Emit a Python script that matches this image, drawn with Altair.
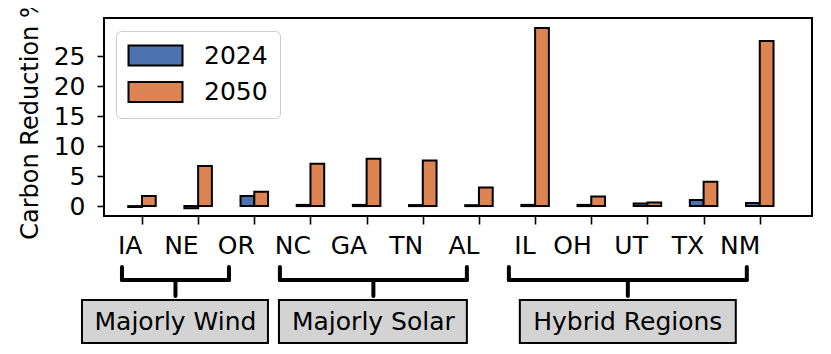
import altair as alt
import pandas as pd

# ---- data ----
regions = ["IA", "NE", "OR", "NC", "GA", "TN", "AL", "IL", "OH", "UT", "TX", "NM"]
reduction_2024 = [-0.15, -0.35, 1.7, 0.2, 0.2, 0.17, 0.15, 0.2, 0.2, 0.45, 1.0, 0.5]
reduction_2050 = [1.7, 6.7, 2.4, 7.05, 7.9, 7.6, 3.1, 29.7, 1.6, 0.6, 4.05, 27.5]
years = ["2024", "2050"]
colors = ["#4C72B0", "#DD8452"]
y_ticks = [0, 5, 10, 15, 20, 25]

# group annotations (positions in x-index units)
group_names = ["Majorly Wind", "Majorly Solar", "Hybrid Regions"]
group_bracket_start = [-0.356, 2.456, 6.533]
group_bracket_end = [1.549, 5.785, 10.769]
group_box_start = [-1.068, 2.439, 6.728]
group_box_end = [2.243, 5.785, 10.573]

FONT = "DejaVu Sans"
BAR_W = 0.245

rows = []
for i, r in enumerate(regions):
    rows.append({"idx": i, "region": r, "year": years[0], "value": reduction_2024[i]})
    rows.append({"idx": i, "region": r, "year": years[1], "value": reduction_2050[i]})
bars_df = pd.DataFrame(rows)

groups_df = pd.DataFrame({
    "name": group_names,
    "b0": group_bracket_start,
    "b1": group_bracket_end,
    "r0": group_box_start,
    "r1": group_box_end,
})

xscale = alt.Scale(domain=[-0.676, 11.93], nice=False, zero=False)
yscale = alt.Scale(domain=[-1.65, 31.35], nice=False, zero=False)

label_expr = "[" + ",".join("'" + r + "'" for r in regions) + "][datum.value]"

bars = alt.Chart(bars_df).transform_calculate(
    x0=f"datum.idx + (datum.year == '2024' ? {-BAR_W} : 0)",
    x1=f"datum.idx + (datum.year == '2024' ? 0 : {BAR_W})",
).mark_rect(stroke="black", strokeWidth=2).encode(
    x=alt.X("x0:Q", scale=xscale, axis=alt.Axis(
        values=list(range(len(regions))), labelExpr=label_expr, labelAlign="right",
        labelFlush=False, labelOverlap=False, labelBound=False,
        labelFontSize=25, labelPadding=9, tickSize=8, tickWidth=1.6,
        tickColor="black", labelColor="black", domain=False, grid=False, title=None)),
    x2="x1:Q",
    y=alt.Y("value:Q", scale=yscale, axis=alt.Axis(
        values=y_ticks, title="Carbon Reduction %", titleFontSize=24,
        titleFontWeight="normal", titleColor="black", titlePadding=11,
        labelFontSize=25, labelPadding=12, tickSize=7, tickWidth=1.6,
        tickColor="black", labelColor="black", domain=False, grid=False)),
    y2=alt.datum(0),
    color=alt.Color("year:N", scale=alt.Scale(domain=years, range=colors),
                    legend=alt.Legend(title=None, orient="none", legendX=12, legendY=13)),
)

base = alt.Chart(groups_df)

hline = base.mark_rule(color="black", strokeWidth=4, strokeCap="round").encode(
    x=alt.X("b0:Q", scale=xscale, title=None), x2="b1:Q",
    y=alt.value(262),
)
ends = base.transform_fold(["b0", "b1"], as_=["k", "pos"]).mark_rule(
    color="black", strokeWidth=4, strokeCap="round").encode(
    x=alt.X("pos:Q", scale=xscale, title=None),
    y=alt.value(249), y2=alt.value(262),
)
stem = base.transform_calculate(c="(datum.b0 + datum.b1) / 2").mark_rule(
    color="black", strokeWidth=4, strokeCap="round").encode(
    x=alt.X("c:Q", scale=xscale, title=None),
    y=alt.value(262), y2=alt.value(278),
)
box = base.mark_rect(fill="#d3d3d3", stroke="black", strokeWidth=2).encode(
    x=alt.X("r0:Q", scale=xscale, title=None), x2="r1:Q",
    y=alt.value(282), y2=alt.value(325),
)
label = base.transform_calculate(c="(datum.b0 + datum.b1) / 2").mark_text(
    fontSize=25, font=FONT, color="black", align="center", baseline="middle").encode(
    x=alt.X("c:Q", scale=xscale, title=None),
    y=alt.value(304),
    text="name:N",
)

chart = alt.layer(bars, hline, ends, stem, box, label).properties(
    width=708, height=198,
    autosize=alt.AutoSizeParams(type="none"),
    padding={"left": 96, "top": 10, "right": 10, "bottom": 128},
).configure_view(
    stroke="black", strokeWidth=2
).configure_axis(
    labelFont=FONT, titleFont=FONT
).configure_legend(
    labelFont=FONT, labelFontSize=25, labelColor="black",
    symbolType="M-1.2,-1L4.2,-1L4.2,1L-1.2,1Z", symbolSize=400,
    symbolStrokeColor="black", symbolStrokeWidth=2, symbolOpacity=1,
    labelOffset=51, rowPadding=7.5, padding=12,
    strokeColor="#cccccc", cornerRadius=5, fillColor="white",
).configure_text(font=FONT)

chart.save("out.html", embed_options={"renderer": "svg", "actions": False})
